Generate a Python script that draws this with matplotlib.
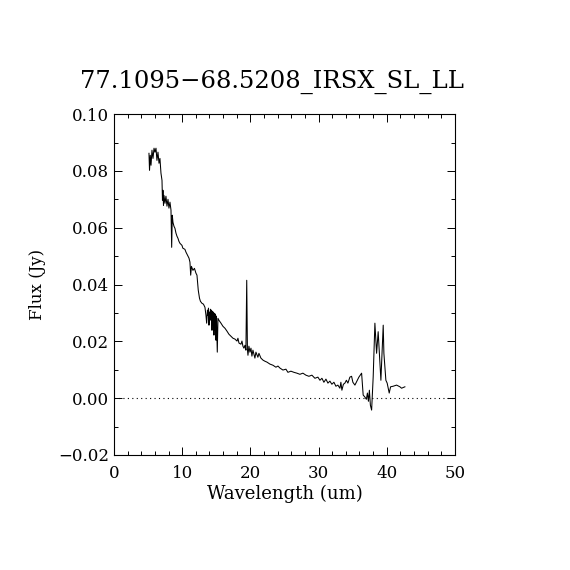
import numpy as np
import matplotlib
matplotlib.use("Agg")
import matplotlib.pyplot as plt
from matplotlib.ticker import MultipleLocator, FuncFormatter

# spectrum (wavelength in um, flux in Jy)
wave = [
    5.13, 5.21, 5.32, 5.43, 5.57, 5.72, 5.87, 6.01, 6.16, 6.30,
    6.45, 6.60, 6.74, 6.89, 7.04, 7.11, 7.18, 7.26, 7.33, 7.48,
    7.62, 7.77, 7.92, 8.06, 8.21, 8.36, 8.46, 8.55, 8.65, 8.80,
    8.94, 9.09, 9.24, 9.38, 9.53, 9.68, 9.97, 10.1, 10.4, 10.56,
    10.85, 11.0, 11.14, 11.25, 11.36, 11.58, 11.80, 12.02, 12.17, 12.36,
    12.54, 12.68, 12.90, 13.12, 13.34, 13.49, 13.59, 13.71, 13.78, 13.86,
    13.93, 14.0, 14.08, 14.15, 14.22, 14.30, 14.37, 14.44, 14.52, 14.59,
    14.66, 14.74, 14.81, 14.88, 14.96, 15.03, 15.15, 15.25, 15.40, 15.69,
    15.98, 16.28, 16.57, 16.86, 17.16, 17.45, 17.74, 18.04, 18.18, 18.33,
    18.62, 18.77, 18.91, 19.06, 19.21, 19.35, 19.47, 19.57, 19.65, 19.79,
    19.94, 20.09, 20.23, 20.38, 20.53, 20.67, 20.82, 21.11, 21.26, 21.55,
    21.85, 22.14, 22.43, 22.87, 23.31, 23.75, 24.05, 24.34, 24.78, 25.22,
    25.51, 25.95, 26.39, 26.83, 27.27, 27.71, 28.15, 28.59, 29.03, 29.47,
    29.91, 30.21, 30.50, 30.79, 31.09, 31.38, 31.67, 31.96, 32.26, 32.55,
    32.84, 33.14, 33.28, 33.43, 33.65, 33.87, 34.09, 34.31, 34.60, 34.85,
    35.04, 35.34, 35.63, 35.92, 36.32, 36.44, 36.55, 36.80, 37.02, 37.17,
    37.32, 37.46, 37.61, 37.79, 37.90, 38.02, 38.27, 38.52, 38.75, 39.0,
    39.15, 39.49, 39.59, 39.88, 40.07, 40.37, 40.57, 40.95, 41.45, 41.94,
    42.18, 42.67,
]
flux = [
    0.0862, 0.0802, 0.0855, 0.0820, 0.0873, 0.0844, 0.0880, 0.0866, 0.0880, 0.0837,
    0.0866, 0.0827, 0.0844, 0.0792, 0.0767, 0.0697, 0.0732, 0.0679, 0.0714, 0.0686,
    0.0711, 0.0676, 0.0700, 0.0669, 0.0690, 0.0662, 0.0531, 0.0644, 0.0619, 0.0605,
    0.0598, 0.0581, 0.0570, 0.0563, 0.0552, 0.0545, 0.0538, 0.0528, 0.0524, 0.0514,
    0.0500, 0.0493, 0.0479, 0.0433, 0.0464, 0.0450, 0.0457, 0.0440, 0.0433, 0.0380,
    0.0352, 0.0341, 0.0334, 0.0331, 0.0320, 0.0292, 0.0264, 0.0310, 0.0292, 0.0317,
    0.0257, 0.0303, 0.0274, 0.0313, 0.0281, 0.0310, 0.0239, 0.0306, 0.0257, 0.0303,
    0.0222, 0.0299, 0.0239, 0.0296, 0.0204, 0.0289, 0.0162, 0.0281, 0.0274, 0.0264,
    0.0253, 0.0246, 0.0236, 0.0225, 0.0218, 0.0211, 0.0208, 0.0201, 0.0211, 0.0194,
    0.0190, 0.0201, 0.0183, 0.0176, 0.0186, 0.0169, 0.0415, 0.0172, 0.0151, 0.0183,
    0.0162, 0.0176, 0.0148, 0.0169, 0.0155, 0.0141, 0.0162, 0.0144, 0.0158, 0.0141,
    0.0134, 0.0130, 0.0127, 0.0120, 0.0116, 0.0109, 0.0113, 0.0106, 0.0099, 0.0102,
    0.0091, 0.0095, 0.0091, 0.0088, 0.0084, 0.0088, 0.0081, 0.0077, 0.0081, 0.0070,
    0.0074, 0.0063, 0.0070, 0.0056, 0.0067, 0.0053, 0.0060, 0.0049, 0.0056, 0.0042,
    0.0046, 0.0035, 0.0056, 0.0028, 0.0049, 0.0053, 0.0063, 0.0053, 0.0074, 0.0077,
    0.0056, 0.0046, 0.0060, 0.0074, 0.0088, 0.0046, 0.0011, 0.0004, -0.0004, 0.0018,
    -0.0011, 0.0028, -0.0025, -0.0042, 0.0018, 0.0075, 0.0264, 0.0158, 0.0234, 0.0123,
    0.0063, 0.0257, 0.0158, 0.0063, 0.0053, 0.0018, 0.0040, 0.0042, 0.0046, 0.0040,
    0.0035, 0.0040,
]

title = "77.1095\u221268.5208_IRSX_SL_LL"

plt.rcParams['font.family'] = ['DejaVu Serif']

fig = plt.figure(figsize=(5.7, 5.7), dpi=100)
ax = fig.add_axes([0.2, 0.2018, 0.598, 0.598])

ax.plot(wave, flux, color='black', lw=0.75)
ax.axhline(0.0, color='black', lw=0.8, linestyle=(0, (1, 3)))

ax.set_xlim(0, 50)
ax.set_ylim(-0.02, 0.10)
ax.xaxis.set_major_locator(MultipleLocator(10))
ax.xaxis.set_minor_locator(MultipleLocator(2))
ax.yaxis.set_major_locator(MultipleLocator(0.02))
ax.yaxis.set_minor_locator(MultipleLocator(0.01))
ax.yaxis.set_major_formatter(FuncFormatter(lambda v, p: f"{v:.2f}".replace('-', '\u2212')))

ax.tick_params(which='both', direction='in', top=True, right=True, width=0.7,
               labelsize=12)
ax.tick_params(which='major', length=6)
ax.tick_params(which='minor', length=3)
ax.tick_params(axis='x', pad=7)
for s in ax.spines.values():
    s.set_linewidth(0.8)

ax.set_xlabel('Wavelength (um)', fontsize=13, labelpad=2)
ax.set_ylabel('Flux (Jy)', fontsize=12, labelpad=9)
fig.text(0.477, 0.856, title, ha='center', va='center', fontsize=17.5)

fig.savefig('out.png', dpi=100)
